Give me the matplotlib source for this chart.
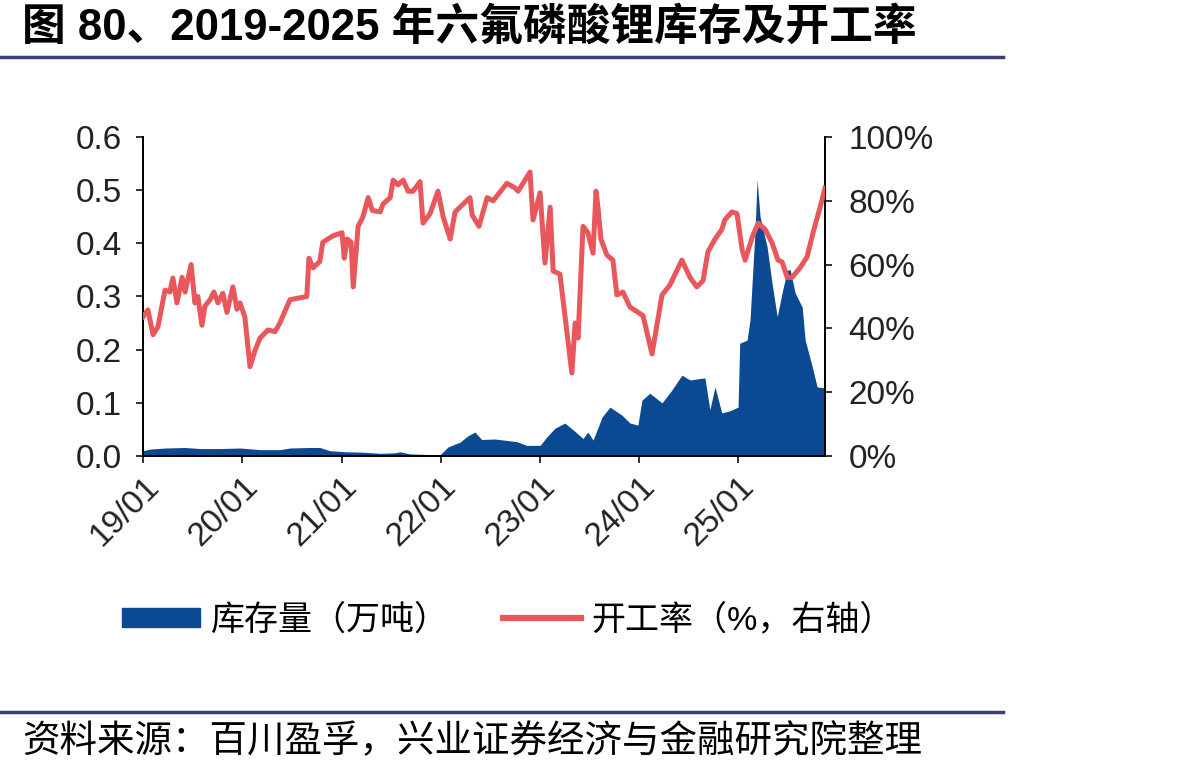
import matplotlib
matplotlib.use("Agg")
import matplotlib.pyplot as plt
from matplotlib.patches import Patch
from matplotlib.lines import Line2D
import pandas as pd

plt.rcParams['font.family'] = ['Liberation Sans', 'Noto Sans CJK SC', 'DejaVu Sans']

# 开工率 (%)
rate_dates = [
    "2019-01-01", "2019-01-19", "2019-02-07", "2019-02-25", "2019-03-23", "2019-04-10",
    "2019-04-21", "2019-05-06", "2019-05-25", "2019-06-05", "2019-06-27", "2019-07-11",
    "2019-07-22", "2019-08-06", "2019-08-17", "2019-09-05", "2019-09-19", "2019-10-04",
    "2019-10-22", "2019-11-06", "2019-11-28", "2019-12-13", "2019-12-24", "2020-01-11",
    "2020-01-30", "2020-02-17", "2020-03-07", "2020-04-05", "2020-05-01", "2020-05-19",
    "2020-06-25", "2020-08-26", "2020-09-03", "2020-09-18", "2020-10-13", "2020-10-24",
    "2020-11-30", "2021-01-03", "2021-01-11", "2021-01-22", "2021-02-05", "2021-02-13",
    "2021-03-03", "2021-03-21", "2021-04-09", "2021-04-24", "2021-05-23", "2021-06-03",
    "2021-06-29", "2021-07-10", "2021-07-28", "2021-08-16", "2021-09-03", "2021-09-21",
    "2021-10-17", "2021-10-28", "2021-11-23", "2021-12-22", "2022-01-10", "2022-02-05",
    "2022-02-23", "2022-03-13", "2022-04-19", "2022-04-27", "2022-05-22", "2022-06-21",
    "2022-07-13", "2022-09-02", "2022-10-02", "2022-10-13", "2022-11-26", "2022-12-07",
    "2023-01-02", "2023-01-20", "2023-02-08", "2023-02-19", "2023-03-16", "2023-04-29",
    "2023-05-11", "2023-05-22", "2023-06-09", "2023-06-27", "2023-07-16", "2023-07-27",
    "2023-08-03", "2023-08-14", "2023-09-05", "2023-09-27", "2023-10-12", "2023-11-03",
    "2023-11-29", "2024-01-16", "2024-02-18", "2024-03-07", "2024-03-26", "2024-04-24",
    "2024-06-07", "2024-07-07", "2024-08-01", "2024-08-24", "2024-09-11", "2024-10-07",
    "2024-11-01", "2024-11-12", "2024-12-08", "2024-12-27", "2025-01-15", "2025-01-26",
    "2025-02-21", "2025-03-15", "2025-04-10", "2025-05-05", "2025-05-27", "2025-06-11",
    "2025-06-30", "2025-07-18", "2025-08-16", "2025-09-11", "2025-10-03", "2025-10-29",
    "2025-11-16",
]
rate = [
    43.6, 45.8, 38.0, 40.5, 52.0, 51.4,
    55.8, 48.0, 56.0, 51.4, 60.0, 48.0,
    50.0, 41.0, 47.0, 49.0, 51.4, 48.0,
    51.0, 45.0, 53.0, 46.0, 48.0, 43.6,
    28.0, 33.0, 37.0, 39.5, 39.0, 41.7,
    49.0, 50.0, 62.0, 59.0, 61.0, 67.0,
    69.0, 70.0, 62.0, 68.0, 67.0, 53.0,
    72.0, 75.0, 81.0, 77.0, 76.5, 79.0,
    81.0, 86.5, 85.0, 86.5, 83.0, 83.0,
    86.0, 73.0, 76.0, 83.0, 75.0, 68.0,
    76.5, 78.0, 81.0, 75.5, 72.0, 81.0,
    80.0, 85.5, 84.0, 83.0, 89.0, 74.0,
    82.5, 60.5, 78.0, 58.0, 57.0, 26.0,
    41.7, 37.0, 72.0, 70.0, 63.6, 83.0,
    78.0, 68.0, 63.0, 61.4, 50.5, 51.4,
    46.7, 44.0, 32.0, 41.0, 50.5, 53.6,
    61.4, 56.0, 53.0, 55.0, 64.0, 68.0,
    71.0, 74.0, 76.5, 76.0, 64.6, 61.4,
    68.6, 73.0, 71.0, 66.8, 61.4, 60.8,
    56.0, 56.0, 59.0, 62.4, 70.0, 78.0,
    84.0,
]

# 库存量 (万吨)
stock_dates = [
    "2019-01-01", "2019-01-27", "2019-03-23", "2019-06-05", "2019-07-30", "2019-10-11",
    "2019-12-24", "2020-03-07", "2020-05-19", "2020-06-25", "2020-09-07", "2020-10-13",
    "2020-11-19", "2021-01-14", "2021-03-28", "2021-05-23", "2021-07-16", "2021-08-04",
    "2021-09-09", "2021-11-04", "2021-12-29", "2022-01-28", "2022-03-13", "2022-04-11",
    "2022-05-07", "2022-06-01", "2022-07-19", "2022-10-08", "2022-11-14", "2023-01-02",
    "2023-01-27", "2023-02-25", "2023-04-03", "2023-05-11", "2023-06-09", "2023-06-27",
    "2023-07-16", "2023-08-18", "2023-09-16", "2023-10-30", "2023-11-29", "2023-12-28",
    "2024-01-12", "2024-02-10", "2024-03-26", "2024-05-01", "2024-06-07", "2024-07-07",
    "2024-08-31", "2024-09-18", "2024-10-07", "2024-11-01", "2024-12-01", "2024-12-31",
    "2025-01-06", "2025-02-02", "2025-02-13", "2025-03-04", "2025-03-11", "2025-03-22",
    "2025-04-17", "2025-05-05", "2025-05-24", "2025-06-11", "2025-06-30", "2025-07-11",
    "2025-07-29", "2025-08-24", "2025-09-04", "2025-09-30", "2025-10-18", "2025-11-16",
]
stock = [
    0.010, 0.013, 0.015, 0.016, 0.014, 0.014,
    0.015, 0.012, 0.012, 0.015, 0.016, 0.016,
    0.010, 0.008, 0.007, 0.005, 0.006, 0.008,
    0.004, 0.003, 0.002, 0.017, 0.026, 0.038,
    0.045, 0.031, 0.032, 0.027, 0.020, 0.020,
    0.036, 0.052, 0.062, 0.046, 0.033, 0.045,
    0.030, 0.073, 0.092, 0.077, 0.062, 0.058,
    0.105, 0.118, 0.100, 0.124, 0.152, 0.143,
    0.147, 0.087, 0.130, 0.081, 0.085, 0.092,
    0.212, 0.218, 0.256, 0.430, 0.520, 0.450,
    0.393, 0.325, 0.262, 0.307, 0.350, 0.350,
    0.307, 0.280, 0.218, 0.168, 0.130, 0.128,
]

years = ["2019", "2020", "2021", "2022", "2023", "2024", "2025"]
tick_labels = ["19/01", "20/01", "21/01", "22/01", "23/01", "24/01", "25/01"]

blue = "#0B4A92"
red = "#E8575B"
navy = "#3B3F78"

fig = plt.figure(figsize=(11.97, 7.73), dpi=100)
ax = fig.add_axes([143/1197, 1 - 456/773, (825 - 143)/1197, (456 - 137)/773])
ax2 = ax.twinx()

sd = pd.to_datetime(stock_dates)
rd = pd.to_datetime(rate_dates)
ax.fill_between(sd, 0, stock, color=blue, lw=0, zorder=2)
ax2.plot(rd, rate, color=red, lw=3.6, zorder=3)

ax.set_ylim(0, 0.6)
ax.set_yticks([0, 0.1, 0.2, 0.3, 0.4, 0.5, 0.6])
ax.set_yticklabels([f"{v:.1f}" for v in [0, 0.1, 0.2, 0.3, 0.4, 0.5, 0.6]])
ax2.set_ylim(0, 100)
ax2.set_yticks([0, 20, 40, 60, 80, 100])
ax2.set_yticklabels([f"{v}%" for v in [0, 20, 40, 60, 80, 100]])

ax.set_xlim(pd.Timestamp("2019-01-01"), pd.Timestamp("2025-11-16"))
ax.set_xticks(pd.to_datetime([y + "-01-01" for y in years]))
ax.set_xticklabels(tick_labels, rotation=45, ha="right", rotation_mode="anchor")

for a in (ax, ax2):
    a.spines["top"].set_visible(False)
    for s in ("left", "right", "bottom"):
        a.spines[s].set_linewidth(1.3)
        a.spines[s].set_color("black")
    a.tick_params(direction="out", length=5, width=1.3, labelsize=24, colors="#222222")
ax.tick_params(axis="x", pad=6)
ax.tick_params(axis="y", pad=10)
ax2.tick_params(axis="y", pad=12)

# 标题与分隔线
fig.text(22/1197, 1 - 28/773, "图 80、2019-2025 年六氟磷酸锂库存及开工率",
         fontsize=31.5, fontweight="bold", ha="left", va="center")
fig.add_artist(Line2D([0, 1003/1197], [1 - 57/773, 1 - 57/773], color=navy, lw=2.5))
fig.add_artist(Line2D([0, 1003/1197], [1 - 712/773, 1 - 712/773], color=navy, lw=2.5))
fig.text(22/1197, 1 - 742/773, "资料来源：百川盈孚，兴业证券经济与金融研究院整理",
         fontsize=27, ha="left", va="center")

handles = [Patch(facecolor=blue, edgecolor=blue),
           Line2D([0], [0], color=red, lw=4.5)]
fig.legend(handles, ["库存量（万吨）", "开工率（%，右轴）"], loc="center",
           bbox_to_anchor=(508/1197, 1 - 620/773), ncol=2, frameon=False,
           fontsize=24.5, handlelength=2.3, handleheight=0.5, columnspacing=1.6,
           handletextpad=0.3)

plt.savefig("out.png", dpi=100)
